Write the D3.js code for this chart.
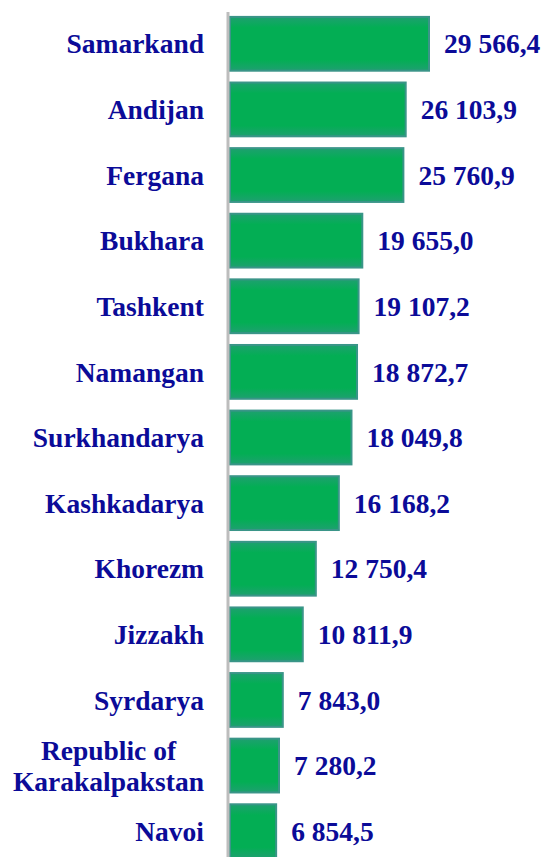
<!DOCTYPE html>
<html>
<head>
<meta charset="utf-8">
<script src="https://cdn.jsdelivr.net/npm/d3@7"></script>
<style>
  body { margin: 0; background: #fff; }
</style>
</head>
<body>
<svg id="chart" width="545" height="857"></svg>
<script>
const regions = ['Samarkand', 'Andijan', 'Fergana', 'Bukhara', 'Tashkent', 'Namangan', 'Surkhandarya',
  'Kashkadarya', 'Khorezm', 'Jizzakh', 'Syrdarya', 'Republic of\nKarakalpakstan', 'Navoi'];
const values = [29566.4, 26103.9, 25760.9, 19655.0, 19107.2, 18872.7, 18049.8,
  16168.2, 12750.4, 10811.9, 7843.0, 7280.2, 6854.5];

const FONT = "'Liberation Serif', 'Times New Roman', Times, serif";
const TEXT_COLOR = '#0b0b98';
const FONT_SIZE = '27.5px';

const svg = d3.select('#chart');
const x0 = 230;
const x = d3.scaleLinear().domain([0, 29566.4]).range([x0, 429]);
const y = d3.scaleBand().domain(regions).range([11, 864]).paddingInner(0.18).paddingOuter(0.09);

const fmt = (v) => {
  const parts = v.toFixed(1).split('.');
  return parts[0].replace(/\B(?=(\d{3})+(?!\d))/g, ' ') + ',' + parts[1];
};

// soft teal edge toward the bar border, bright green centre
const defs = svg.append('defs');
const grad = defs.append('linearGradient').attr('id', 'barFill').attr('x1', 0).attr('x2', 0).attr('y1', 0).attr('y2', 1);
grad.append('stop').attr('offset', '0%').attr('stop-color', '#1ea070');
grad.append('stop').attr('offset', '20%').attr('stop-color', '#03ae54');
grad.append('stop').attr('offset', '80%').attr('stop-color', '#03ae54');
grad.append('stop').attr('offset', '100%').attr('stop-color', '#1ea070');

const data = regions.map((r, i) => ({ name: r, value: values[i] }));

svg.selectAll('rect.bar')
  .data(data)
  .enter()
  .append('rect')
  .attr('class', 'bar')
  .attr('x', x0)
  .attr('y', d => y(d.name))
  .attr('width', d => x(d.value) - x0)
  .attr('height', y.bandwidth())
  .attr('fill', 'url(#barFill)')
  .attr('stroke', '#3a9588')
  .attr('stroke-width', 2);

// axis line
svg.append('line')
  .attr('x1', 228).attr('x2', 228)
  .attr('y1', 12).attr('y2', 857)
  .attr('stroke', '#bdbdbd')
  .attr('stroke-width', 3);

// value labels
svg.selectAll('text.val')
  .data(data)
  .enter()
  .append('text')
  .attr('class', 'val')
  .attr('x', d => x(d.value) + 15)
  .attr('y', d => y(d.name) + y.bandwidth() / 2)
  .attr('dy', '0.35em')
  .attr('font-family', FONT)
  .attr('font-weight', 'bold')
  .attr('font-size', FONT_SIZE)
  .attr('fill', TEXT_COLOR)
  .text(d => fmt(d.value));

// category labels
const labelRight = 204;
data.forEach((d) => {
  const lines = d.name.split('\n');
  const cy = y(d.name) + y.bandwidth() / 2;
  const g = svg.append('text')
    .attr('class', 'cat')
    .attr('font-family', FONT)
    .attr('font-weight', 'bold')
    .attr('font-size', FONT_SIZE)
    .attr('fill', TEXT_COLOR);
  if (lines.length === 1) {
    g.attr('x', labelRight).attr('y', cy).attr('dy', '0.35em')
      .attr('text-anchor', 'end').text(lines[0]);
  } else {
    const lh = 31;
    lines.forEach((l, i) => {
      g.append('tspan').attr('y', cy + (i - (lines.length - 1) / 2) * lh).attr('dy', '0.35em').text(l);
    });
    // center lines on the widest line, right edge at labelRight
    let maxW = 0;
    g.selectAll('tspan').each(function () { maxW = Math.max(maxW, this.getComputedTextLength()); });
    g.attr('text-anchor', 'middle');
    g.selectAll('tspan').attr('x', labelRight - maxW / 2);
  }
});
</script>
</body>
</html>
